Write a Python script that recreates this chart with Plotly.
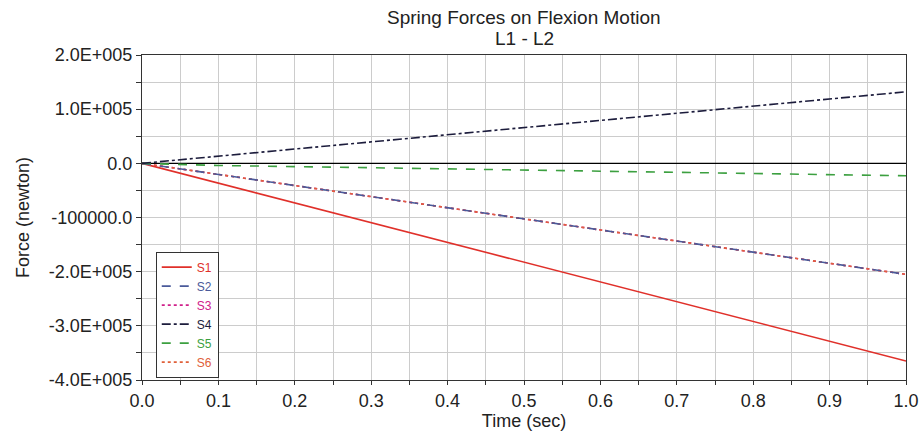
import plotly.graph_objects as go

time = [0.0, 0.1, 0.2, 0.3, 0.4, 0.5, 0.6, 0.7, 0.8, 0.9, 1.0]
s1 = [0, -36500, -73000, -109500, -146000, -182500, -219000, -255500, -292000, -328500, -365000]
s2 = [0, -20500, -41000, -61500, -82000, -102500, -123000, -143500, -164000, -184500, -205000]
s3 = [0, -20500, -41000, -61500, -82000, -102500, -123000, -143500, -164000, -184500, -205000]
s4 = [0, 13200, 26400, 39600, 52800, 66000, 79200, 92400, 105600, 118800, 132000]
s5 = [0, -4000, -6000, -8000, -11000, -13000, -15000, -17000, -19000, -21000, -23000]
s6 = [0, -20500, -41000, -61500, -82000, -102500, -123000, -143500, -164000, -184500, -205000]

names = ["S1", "S2", "S3", "S4", "S5", "S6"]
colors = ["#e0302a", "#4a5a9a", "#d0208a", "#1c1c3c", "#3ca040", "#e0603a"]
dashes = ["solid", "dash", "dot", "dashdot", "dash", "dot"]
series = [s1, s2, s3, s4, s5, s6]

yticks = [200000, 100000, 0, -100000, -200000, -300000, -400000]
yticklabels = ["2.0E+005", "1.0E+005", "0.0", "-100000.0", "-2.0E+005", "-3.0E+005", "-4.0E+005"]
xticks = [0.0, 0.1, 0.2, 0.3, 0.4, 0.5, 0.6, 0.7, 0.8, 0.9, 1.0]
xticklabels = ["0.0", "0.1", "0.2", "0.3", "0.4", "0.5", "0.6", "0.7", "0.8", "0.9", "1.0"]
title_lines = ["Spring Forces on Flexion Motion", "L1 - L2"]

fig = go.Figure()
# zero line
fig.add_trace(go.Scatter(x=[time[0], time[-1]], y=[0, 0], mode="lines",
                         line=dict(color="black", width=1.2), showlegend=False, hoverinfo="skip"))
order = [0, 2, 5, 1, 4, 3]
for i in order:
    fig.add_trace(go.Scatter(
        x=time, y=series[i], mode="lines",
        name=f"<span style='color:{colors[i]}'>{names[i]}</span>",
        line=dict(color=colors[i], width=1.6, dash=dashes[i]),
        legendrank=i + 1,
    ))

font = "Liberation Sans, Arial, sans-serif"
fig.add_annotation(text=title_lines[0], xref="paper", yref="paper", x=0.5, y=1.114,
                   xanchor="center", yanchor="middle", showarrow=False,
                   font=dict(size=19, family=font, color="#222222"))
fig.add_annotation(text=title_lines[1], xref="paper", yref="paper", x=0.5, y=1.052,
                   xanchor="center", yanchor="middle", showarrow=False,
                   font=dict(size=19, family=font, color="#222222"))

fig.update_layout(
    width=920, height=438,
    margin=dict(l=142, r=14, t=55, b=58),
    paper_bgcolor="white", plot_bgcolor="white",
    font=dict(family=font, size=18, color="#222222"),
    showlegend=True,
    legend=dict(x=0.018, y=0.395, xanchor="left", yanchor="top",
                bordercolor="#333333", borderwidth=1, bgcolor="white",
                font=dict(size=12, family=font), tracegroupgap=0,
                itemwidth=30),
)
fig.update_xaxes(
    range=[0, 1], tickvals=xticks, ticktext=xticklabels, automargin=False,
    showline=True, linecolor="#333333", linewidth=1, mirror=True,
    ticks="outside", ticklen=4, tickcolor="#333333",
    showgrid=True, gridcolor="#cccccc", gridwidth=1, zeroline=False,
    minor=dict(dtick=0.05, tick0=0, showgrid=True, gridcolor="#cccccc", ticks="outside", ticklen=4, tickcolor="#333333"),
    title=dict(text="Time (sec)", font=dict(size=18), standoff=2),
    tickfont=dict(size=18),
)
fig.update_yaxes(
    range=[-400000, 200000], tickvals=yticks, ticktext=yticklabels, automargin=False,
    showline=True, linecolor="#333333", linewidth=1, mirror=True,
    ticks="outside", ticklen=5, tickcolor="#333333",
    showgrid=True, gridcolor="#cccccc", gridwidth=1, zeroline=False,
    minor=dict(dtick=50000, tick0=0, showgrid=True, gridcolor="#cccccc", ticks="outside", ticklen=5, tickcolor="#333333"),
    title=dict(text="Force (newton)", font=dict(size=18), standoff=14),
    tickfont=dict(size=18),
)

fig.write_html("out.html")
